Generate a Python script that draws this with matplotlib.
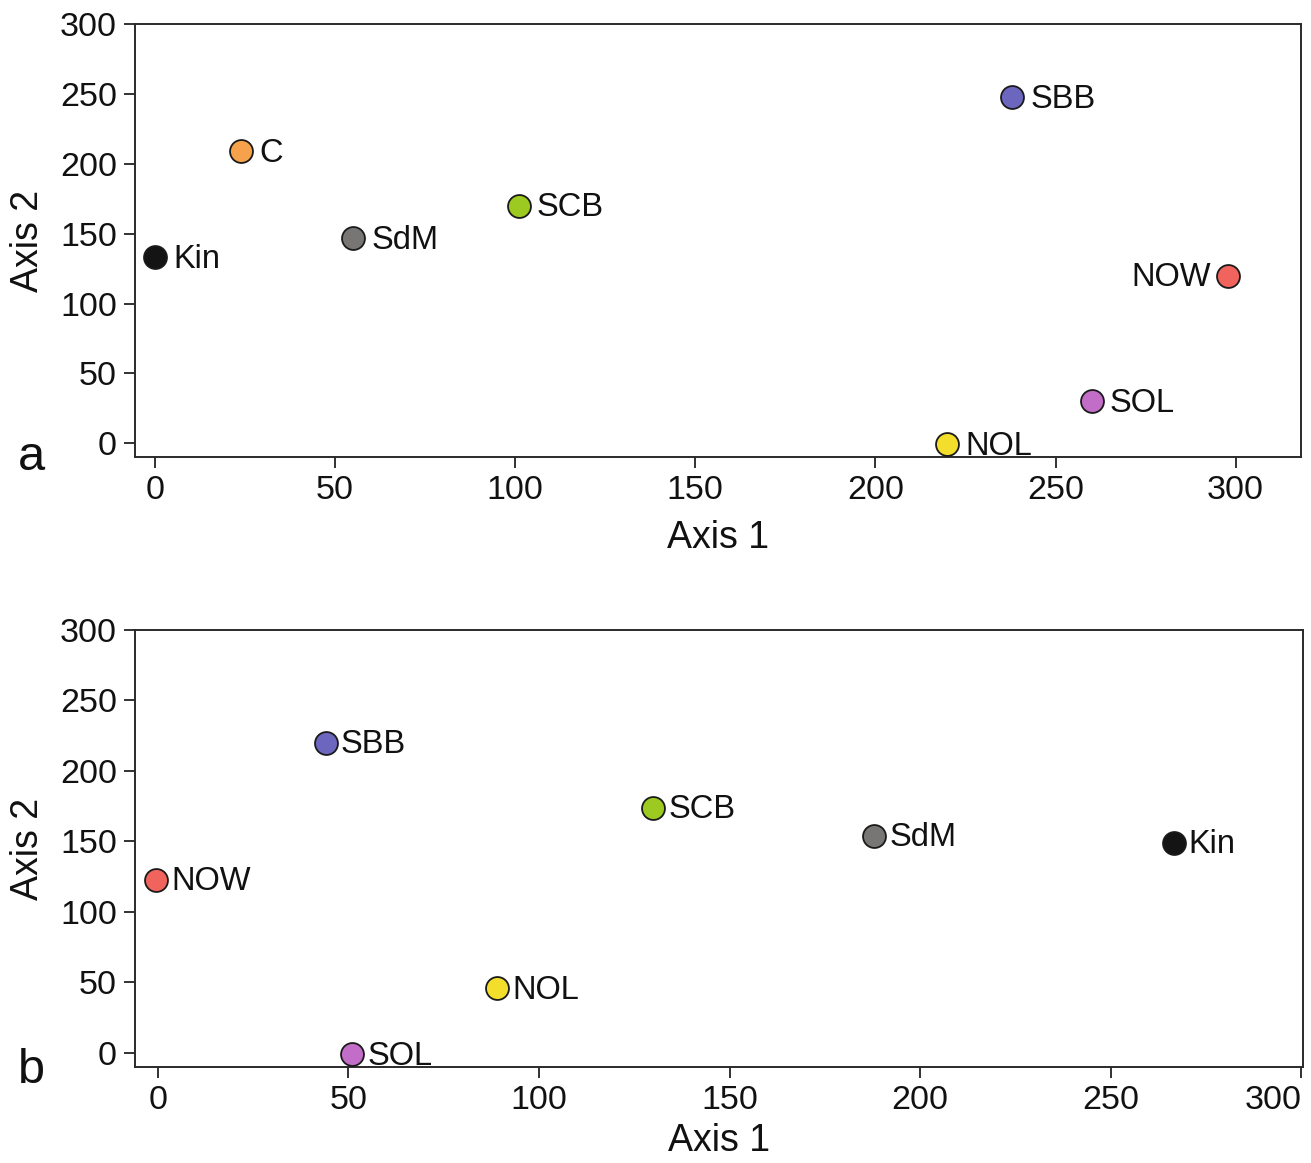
import numpy as np
import matplotlib
matplotlib.use("Agg")
import matplotlib.pyplot as plt

plt.rcParams['font.family'] = ['Liberation Sans', 'DejaVu Sans']

# ordination scores, panel a
names_a = ["Kin", "C", "SdM", "SCB", "SBB", "NOW", "SOL", "NOL"]
x_a = [0, 24, 55, 101, 238, 298, 260, 220]
y_a = [133, 209, 147, 170, 248, 120, 30, -1]

# panel b
names_b = ["NOW", "SBB", "SCB", "SdM", "Kin", "NOL", "SOL"]
x_b = [-0.5, 44, 130, 188, 266.5, 89, 51]
y_b = [123, 220, 174, 154, 149, 46, -1]

colors = {
    "Kin": "#141414", "C": "#F6A24C", "SdM": "#787575", "SCB": "#9DCA20",
    "SBB": "#6C66BF", "NOW": "#F1645D", "SOL": "#C26DC8", "NOL": "#F3DE2C",
}
left_labels_a = {"NOW"}

fig = plt.figure(figsize=(13.11, 11.63), dpi=100)
ax_a = fig.add_axes([0.103, 0.607, 0.889, 0.372])
ax_b = fig.add_axes([0.103, 0.0825, 0.891, 0.3758])


def draw(ax, names, xs, ys, xlim, offset, xpad, left_labels=()):
    for n, x, y in zip(names, xs, ys):
        ax.plot(x, y, 'o', ms=16.5, mfc=colors[n], mec="#1a1a1a", mew=1.3,
                zorder=3, clip_on=False)
        if n in left_labels:
            ax.annotate(n, (x, y), xytext=(-offset, -1.5), textcoords="offset points",
                        ha="right", va="center", fontsize=23.5, color="#111111")
        else:
            ax.annotate(n, (x, y), xytext=(offset, -1.5), textcoords="offset points",
                        ha="left", va="center", fontsize=23.5, color="#111111")
    ax.set_xlim(*xlim)
    ax.set_ylim(-10, 300)
    ax.set_xticks(np.arange(0, 301, 50))
    ax.set_yticks(np.arange(0, 301, 50))
    ax.tick_params(direction="out", length=8, width=1.3, labelsize=24.5,
                   color="#222222", labelcolor="#111111", pad=5)
    for sp in ax.spines.values():
        sp.set_linewidth(1.4)
        sp.set_color("#2a2a2a")
    ax.set_xlabel("Axis 1", fontsize=27, color="#111111", labelpad=xpad)
    ax.set_ylabel("Axis 2", fontsize=27, color="#111111", labelpad=10)


draw(ax_a, names_a, x_a, y_a, (-5.5, 318), 13, 10, left_labels_a)
draw(ax_b, names_b, x_b, y_b, (-6, 300.5), 11, 5)

# last x label of panel b sits inside the figure edge
fig.canvas.draw()
ax_b.get_xticklabels()[-1].set_horizontalalignment("right")

fig.text(0.014, 0.596, "a", fontsize=35, color="#111111")
fig.text(0.014, 0.069, "b", fontsize=35, color="#111111")

fig.savefig("out.png", dpi=100)
